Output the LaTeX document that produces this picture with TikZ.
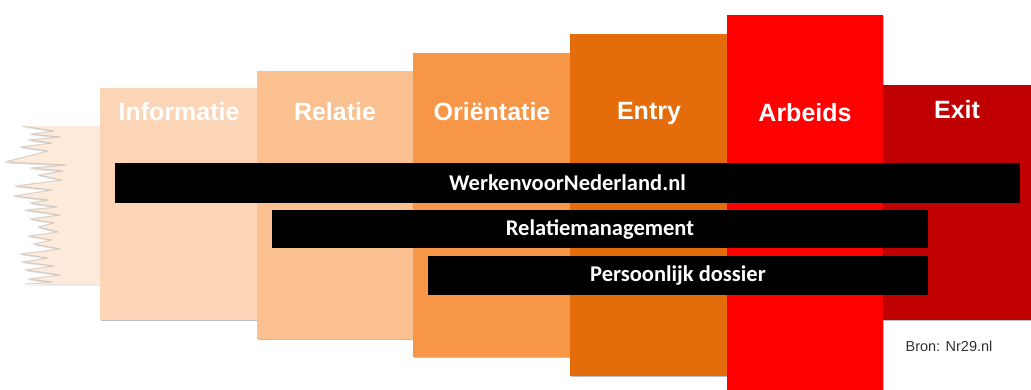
\documentclass[tikz,border=0pt]{standalone}
\usepackage{fontspec}
\setmainfont{Liberation Sans}
\newfontfamily\barfont{Carlito}
\usetikzlibrary{shadows}
\definecolor{cTorn}{HTML}{FDEADA}
\definecolor{cInfo}{HTML}{FBD5B5}
\definecolor{cRel}{HTML}{FAC090}
\definecolor{cOri}{HTML}{F79646}
\definecolor{cEntry}{HTML}{E46C0A}
\definecolor{cArb}{HTML}{FF0000}
\definecolor{cExit}{HTML}{C00000}
\definecolor{cBron}{HTML}{333333}
\begin{document}
\begin{tikzpicture}[x=1pt,y=-1pt,
  col/.style={rectangle,anchor=north west,inner sep=0pt,outer sep=0pt,
    drop shadow={shadow xshift=1.2pt,shadow yshift=-1.2pt,opacity=.25,fill=black}},
  collabel/.style={text=white,font=\fontsize{25}{25}\selectfont\bfseries,inner sep=0pt},
  bar/.style={rectangle,fill=black,anchor=north west,inner sep=0pt,outer sep=0pt},
  bartext/.style={text=white,font=\barfont\fontsize{22.5}{22.5}\selectfont\bfseries,inner sep=0pt},
  tornedge/.style={draw=black!50,opacity=.28,line width=1.1pt,line join=round}]
\useasboundingbox (0,0) rectangle (1031,390);
% torn piece
\def\jag{(22,126) -- (54,131) -- (30,134) -- (60,137) -- (28,140) -- (52,143) -- (20,147)
  -- (48,151) -- (5,162) -- (66,165) -- (30,168) -- (63,171) -- (38,175) -- (62,180)
  -- (15,186) -- (52,190) -- (14,196) -- (48,200) -- (30,203) -- (57,207) -- (25,210)
  -- (60,215) -- (30,219) -- (54,223) -- (38,227) -- (58,232) -- (28,236) -- (52,240)
  -- (33,244) -- (60,249) -- (20,254) -- (48,258) -- (22,262) -- (54,266) -- (25,270)
  -- (60,275) -- (28,279) -- (52,282) -- (25,284)}
\fill[cTorn, drop shadow={shadow xshift=1pt,shadow yshift=-1.5pt,opacity=.2}]
  (100,126) -- \jag -- (100,284) -- cycle;
\draw[tornedge] \jag;
% columns
\node[col,fill=cInfo,minimum width=157pt,minimum height=232pt] (c1) at (100,88) {};
\node[col,fill=cRel,minimum width=156pt,minimum height=268pt] (c2) at (257,71) {};
\node[col,fill=cOri,minimum width=157pt,minimum height=304pt] (c3) at (413,53) {};
\node[col,fill=cEntry,minimum width=157pt,minimum height=342pt] (c4) at (570,34) {};
\node[col,fill=cExit,minimum width=150pt,minimum height=235pt] (c6) at (883,85) {};
\node[col,fill=cArb,minimum width=156pt,minimum height=380pt] (c5) at (727,15) {};
% column labels
\node[collabel] (l1) at (179,112) {Informatie};
\node[collabel] (l2) at (335,112) {Relatie};
\node[collabel] (l3) at (492,112) {Oriëntatie};
\node[collabel] (l4) at (649,113) {Entry};
\node[collabel] (l5) at (805,113) {Arbeids};
\node[collabel] (l6) at (957,110) {Exit};
% bars
\node[bar,minimum width=905pt,minimum height=40pt] (b1) at (115,163) {};
\node[bar,minimum width=656pt,minimum height=38pt] (b2) at (272,210) {};
\node[bar,minimum width=500pt,minimum height=39pt] (b3) at (428,256) {};
\node[bartext] (t1) at (b1.center) {WerkenvoorNederland.nl};
\node[bartext] (t2) at (b2.center) {Relatiemanagement};
\node[bartext] (t3) at (b3.center) {Persoonlijk dossier};
% source
\node[text=cBron,font=\fontsize{14.5}{14.5}\selectfont,inner sep=0pt] (bron) at (949,346) {Bron: Nr29.nl};
\end{tikzpicture}
\end{document}
